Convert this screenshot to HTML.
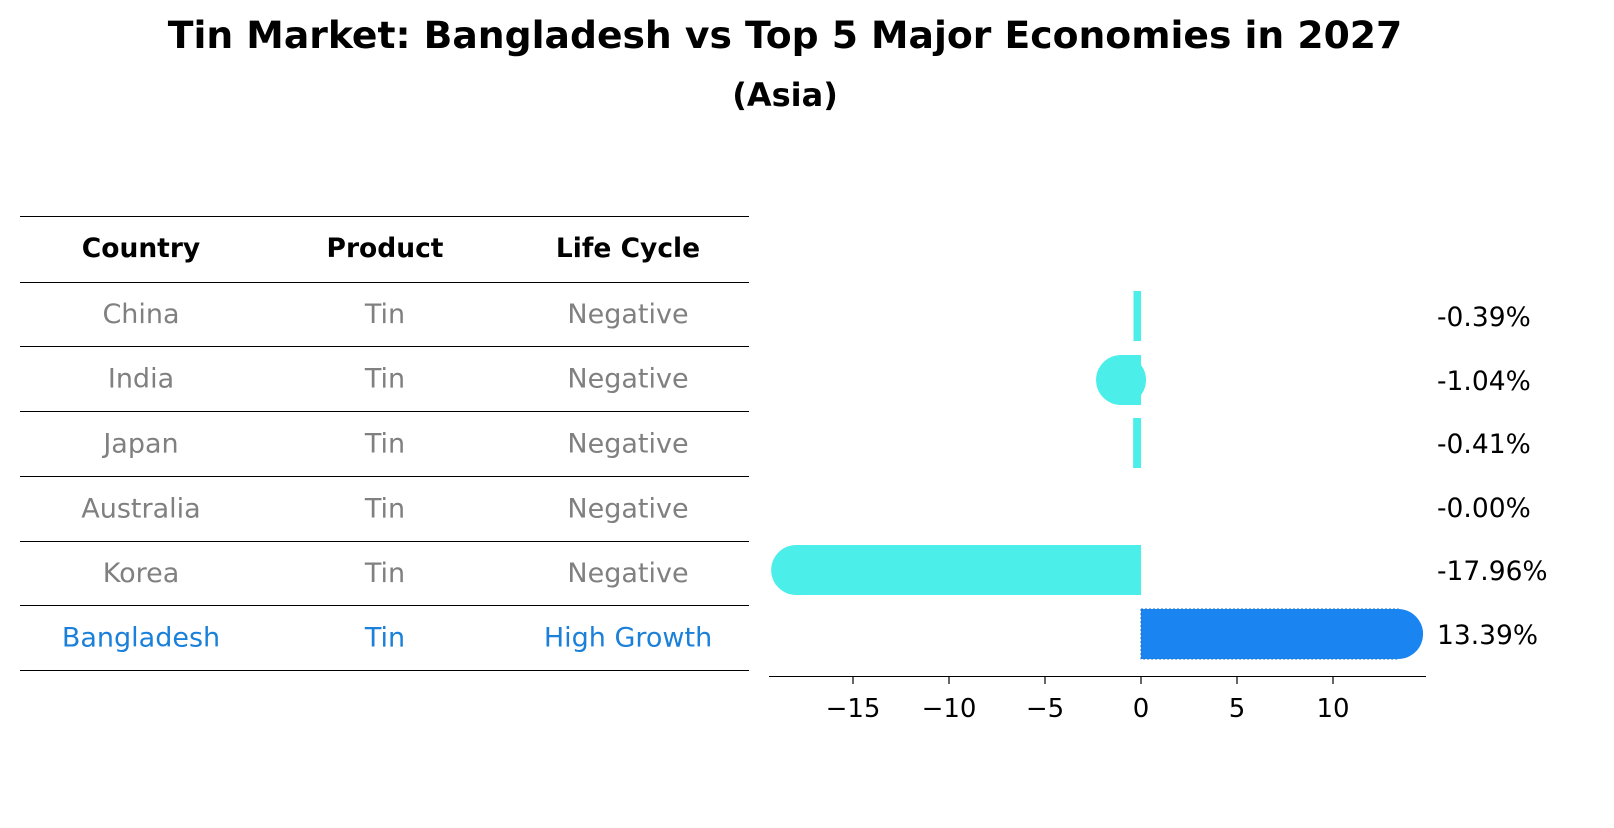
<!DOCTYPE html>
<html><head><meta charset="utf-8"><style>
body{margin:0;background:#fff;font-family:"Liberation Sans","DejaVu Sans",sans-serif;}
</style></head><body>
<svg width="1614" height="823" viewBox="0 0 1614 823" xmlns="http://www.w3.org/2000/svg" font-family="DejaVu Sans, Liberation Sans, sans-serif">
<text x="785" y="48" text-anchor="middle" font-size="37.7" font-weight="bold">Tin Market: Bangladesh vs Top 5 Major Economies in 2027</text>
<text x="785" y="106" text-anchor="middle" font-size="32" font-weight="bold">(Asia)</text>
<g id="table"></g>
<g id="bars"></g>
</svg>
<script>
const countries=["China","India","Japan","Australia","Korea","Bangladesh"];
const products=["Tin","Tin","Tin","Tin","Tin","Tin"];
const lifeCycles=["Negative","Negative","Negative","Negative","Negative","High Growth"];
const values=[-0.39,-1.04,-0.41,-0.00,-17.96,13.39];
const valueLabels=["-0.39%","-1.04%","-0.41%","-0.00%","-17.96%","13.39%"];
const ticks=[-15,-10,-5,0,5,10];
const NS="http://www.w3.org/2000/svg";
function mk(tag,attrs,parent){const e=document.createElementNS(NS,tag);for(const k in attrs)e.setAttribute(k,attrs[k]);parent.appendChild(e);return e;}
const tbl=document.getElementById('table');
const lineYs=[216,282,346,411,476,541,605,670];
lineYs.forEach((y,i)=>{const l=mk('line',{x1:20,x2:749,y1:y+0.5,y2:y+0.5,stroke:'#000','stroke-width':1,'shape-rendering':'crispEdges'},tbl);

});
const colX=[141,385,628];
["Country","Product","Life Cycle"].forEach((h,i)=>{const t=mk('text',{x:colX[i],y:257,'text-anchor':'middle','font-size':26.5,'font-weight':'bold'},tbl);t.textContent=h;

});
countries.forEach((c,r)=>{const y=(lineYs[r+1]+lineYs[r+2])/2+9;const col=r===5?'#1a80d9':'#808080';
[c,products[r],lifeCycles[r]].forEach((v,i)=>{const t=mk('text',{x:colX[i],y:y,'text-anchor':'middle','font-size':27,fill:col},tbl);t.textContent=v;

});});
const g=document.getElementById('bars');
const x0=1141,ppu=19.2;const xs=v=>x0+v*ppu;
const rowY=[316,380,443,507,570,634];const bh=50;
values.forEach((v,i)=>{const col=i===5?'#1a85f0':'#4beee8';const y=rowY[i];
const xa=Math.min(xs(v),x0),xb=Math.max(xs(v),x0);
if(xb-xa>0.3){const r=mk('rect',{x:xa,y:y-bh/2,width:xb-xa,height:bh,fill:col},g);
if(i===5){r.setAttribute('stroke','#1a6fd0');r.setAttribute('stroke-dasharray','2,2');r.setAttribute('stroke-width','1');}

}
if(Math.abs(v)>=1){const c=mk('circle',{cx:xs(v),cy:y,r:25,fill:col},g);

}
const t=mk('text',{x:1437,y:y+10,'font-size':26.5},g);t.textContent=valueLabels[i];

});
const ax=mk('line',{x1:769,x2:1426,y1:676.5,y2:676.5,stroke:'#000','stroke-width':1.2,'shape-rendering':'crispEdges'},g);


ticks.forEach(v=>{const l=mk('line',{x1:xs(v),x2:xs(v),y1:676,y2:684,stroke:'#000','stroke-width':1.2},g);


const t=mk('text',{x:xs(v),y:717,'text-anchor':'middle','font-size':26},g);t.textContent=v<0?'\u2212'+Math.abs(v):String(v);

});
</script>
</body></html>
